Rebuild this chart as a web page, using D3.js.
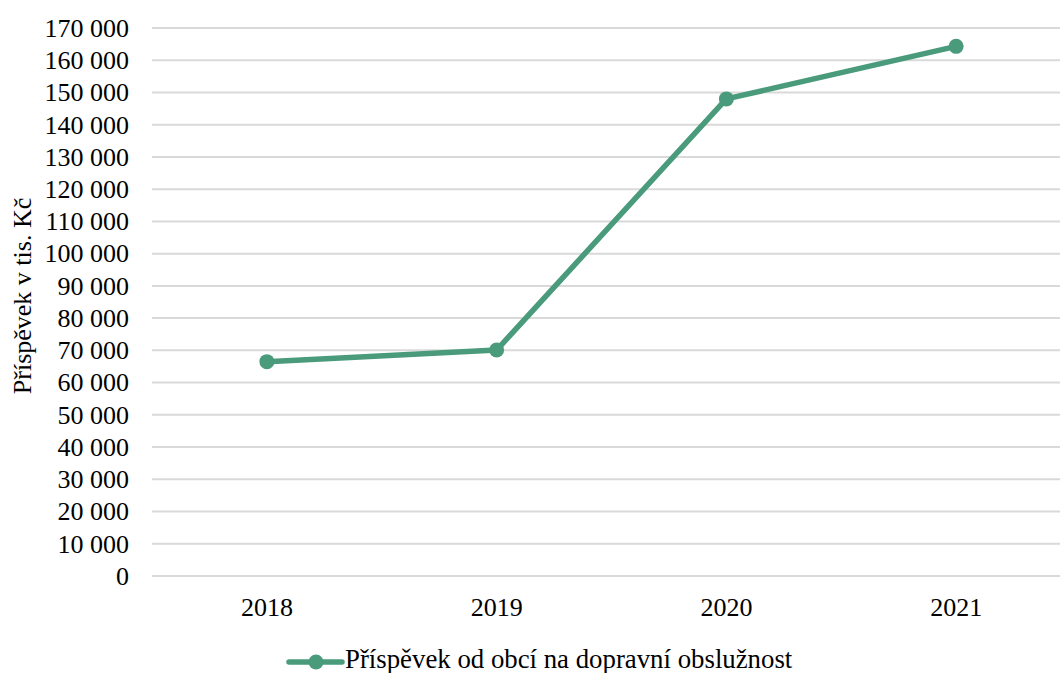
<!DOCTYPE html>
<html>
<head>
<meta charset="utf-8">
<script src="https://cdn.jsdelivr.net/npm/d3@7"></script>
<style>
  html, body { margin: 0; padding: 0; background: #fff; }
  svg { display: block; }
  svg text { font-family: "Liberation Serif", "Times New Roman", serif !important; fill: #000; }
</style>
</head>
<body>
<svg id="chart" width="1060" height="673"></svg>
<script>
// Annual municipal contribution to public transport services (thousand CZK)
const years = ["2018", "2019", "2020", "2021"];
const contribution = [66500, 70100, 148000, 164300];
const yTicks = d3.range(0, 170001, 10000);
const seriesName = "Příspěvek od obcí na dopravní obslužnost";
const yTitle = "Příspěvek v tis. Kč";

const svg = d3.select("#chart");
const color = "#4a9a7c";
const margin = { left: 152, right: -11, top: 28, bottom: 97 };
const W = 1060, H = 673;

const x = d3.scaleBand()
  .domain(years)
  .range([margin.left, W - margin.right])
  .padding(0);

const y = d3.scaleLinear()
  .domain([0, 170000])
  .range([H - margin.bottom, margin.top]);

const fmt = v => d3.format(",")(v).replace(/,/g, " ");

// horizontal gridlines
svg.append("g")
  .selectAll("line")
  .data(yTicks)
  .join("line")
  .attr("x1", margin.left)
  .attr("x2", W - margin.right)
  .attr("y1", d => y(d))
  .attr("y2", d => y(d))
  .attr("stroke", "#d9d9d9")
  .attr("stroke-width", 2);

// y axis labels
const yAxis = d3.axisLeft(y)
  .tickValues(yTicks)
  .tickFormat(fmt)
  .tickSize(0)
  .tickPadding(23);
svg.append("g")
  .attr("transform", `translate(${margin.left},0)`)
  .call(yAxis)
  .call(g => g.select(".domain").remove())
  .call(g => g.selectAll("text").attr("font-size", 26));

// x axis labels
const xAxis = d3.axisBottom(x).tickSize(0).tickPadding(22);
svg.append("g")
  .attr("transform", `translate(0,${y(0)})`)
  .call(xAxis)
  .call(g => g.select(".domain").remove())
  .call(g => g.selectAll("text").attr("font-size", 26));

// y axis title
svg.append("text")
  .attr("transform", `translate(31,${(y(0) + y(170000)) / 2 - 6}) rotate(-90)`)
  .attr("text-anchor", "middle")
  .attr("font-size", 26)
  .text(yTitle);

// series line and markers
const pts = years.map((yr, i) => ({ yr, v: contribution[i] }));
const cx = d => x(d.yr) + x.bandwidth() / 2;

svg.append("path")
  .datum(pts)
  .attr("fill", "none")
  .attr("stroke", color)
  .attr("stroke-width", 5.5)
  .attr("stroke-linejoin", "round")
  .attr("d", d3.line().x(cx).y(d => y(d.v)));

svg.append("g")
  .selectAll("circle")
  .data(pts)
  .join("circle")
  .attr("cx", cx)
  .attr("cy", d => y(d.v))
  .attr("r", 7.5)
  .attr("fill", color);

// legend
const lg = svg.append("g").attr("transform", "translate(289,662)");
lg.append("line")
  .attr("x1", 0).attr("x2", 53)
  .attr("y1", 0).attr("y2", 0)
  .attr("stroke", color)
  .attr("stroke-width", 5.5)
  .attr("stroke-linecap", "round");
lg.append("circle")
  .attr("cx", 27).attr("cy", 0).attr("r", 7.5)
  .attr("fill", color);
lg.append("text")
  .attr("x", 56)
  .attr("y", 6)
  .attr("font-size", 26.8)
  .text(seriesName);
</script>
</body>
</html>
